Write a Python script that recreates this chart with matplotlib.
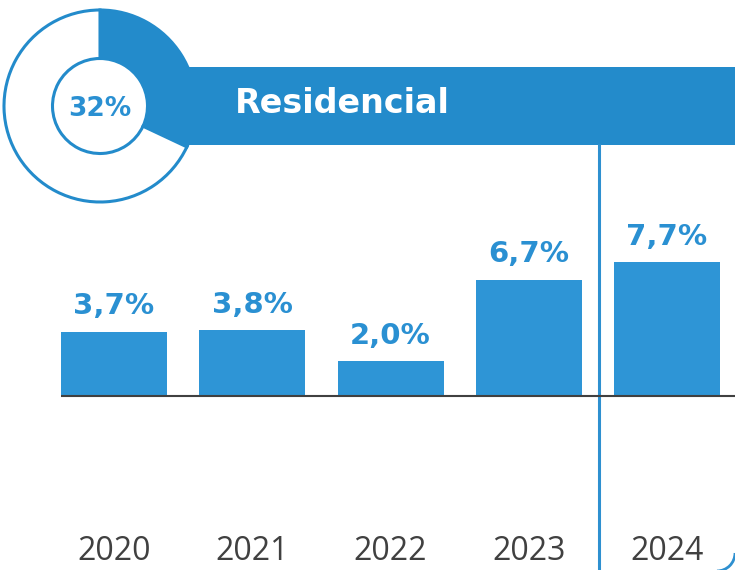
import matplotlib
matplotlib.use("Agg")
import matplotlib.pyplot as plt
from matplotlib.patches import Rectangle, Arc, Circle
from matplotlib.lines import Line2D

# ---- data ----
years = ["2020", "2021", "2022", "2023", "2024"]
growth = [3.7, 3.8, 2.0, 6.7, 7.7]
value_labels = ["3,7%", "3,8%", "2,0%", "6,7%", "7,7%"]
share = [32, 68]
share_label = "32%"
title = "Residencial"

W, H = 735, 570
BANNER = "#238BCB"
BAR = "#2E95D6"
TXT_BLUE = "#2A90D2"
GRAY = "#404040"

fig = plt.figure(figsize=(W / 100, H / 100), dpi=100)
fig.patch.set_facecolor("white")

def fx(px):
    return px / W

def fy(py):
    return (H - py) / H

# banner
fig.patches.append(Rectangle((fx(100), fy(145)), fx(735) - fx(100), fy(67) - fy(145),
                             transform=fig.transFigure, facecolor=BANNER, edgecolor="none", zorder=0))
fig.text(fx(235), fy(113), title, color="white", fontsize=24, fontweight="bold",
         family="DejaVu Sans", ha="left", va="baseline", zorder=5)

# vertical separator
fig.lines.append(Line2D([fx(599), fx(599)], [fy(145), fy(570)], transform=fig.transFigure,
                        color="#2E90D0", linewidth=2.2, zorder=1))

# bottom-right rounded corner
fig.patches.append(Arc((fx(717), fy(553)), 2 * 18 / W, 2 * 18 / H, theta1=270, theta2=360,
                       transform=fig.transFigure, color="#2E90D0", linewidth=2, zorder=1))

# ---- bar axes ----
step = 138.25
c0 = 114
base_py = 396
ppu = 17.35
ax = fig.add_axes([0, 0, 1, 1], zorder=2)
ax.patch.set_alpha(0)
x = list(range(len(years)))
width = 106 / step
ax.bar(x, growth, width=width, color=BAR, zorder=2)
ax.set_xlim(-c0 / step, (W - c0) / step)
ax.set_ylim(-(H - base_py) / ppu, base_py / ppu)
ax.hlines(0, -width / 2, (W - c0) / step, color=GRAY, linewidth=1.5, zorder=3)
for xi, v, lab in zip(x, growth, value_labels):
    ax.annotate(lab, (xi, v), xytext=(0, 12.5), textcoords="offset points",
                ha="center", va="baseline", color=TXT_BLUE, fontsize=21,
                fontweight="bold", family="DejaVu Sans")
for xi, y in zip(x, years):
    ax.text(xi, -(560 - base_py) / ppu, y, ha="center", va="baseline", color=GRAY,
            fontsize=23, family="Open Sans")
ax.axis("off")

# ---- donut ----
cx, cy, R, r = 100, 106, 96, 47.5
pad = 3
pax = fig.add_axes([fx(cx - R - pad), fy(cy + R + pad), (2 * R + 2 * pad) / W, (2 * R + 2 * pad) / H], zorder=4)
pax.add_patch(Circle((0, 0), r / (R + pad), facecolor="white", edgecolor="none", zorder=0))
pax.pie(share, startangle=90, counterclock=False, colors=[BANNER, "white"],
        radius=R / (R + pad),
        wedgeprops=dict(width=(R - r) / (R + pad), edgecolor=BANNER, linewidth=2.2))
pax.set_aspect("equal")
pax.set_xlim(-1, 1)
pax.set_ylim(-1, 1)
pax.text(0, -3 / (R + pad), share_label, ha="center", va="center", color=TXT_BLUE, fontsize=19,
         fontweight="bold", family="DejaVu Sans", zorder=5)
pax.axis("off")

fig.savefig("out.png", dpi=100, facecolor="white")
